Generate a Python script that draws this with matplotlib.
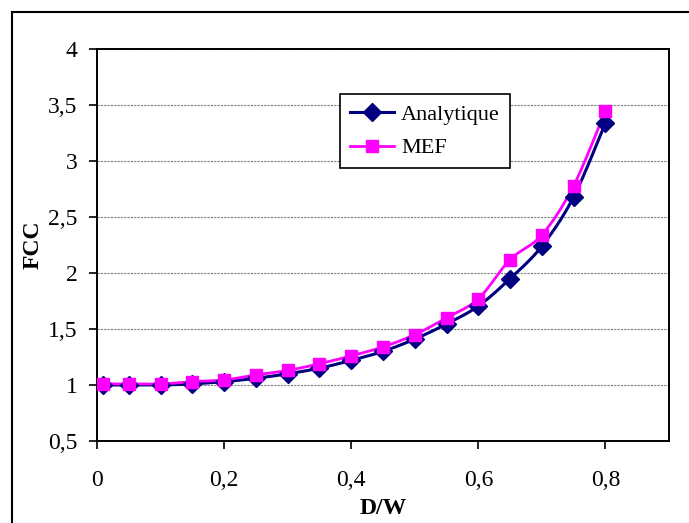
import numpy as np
import matplotlib
matplotlib.use('Agg')
from matplotlib import pyplot as plt
from matplotlib.lines import Line2D
from matplotlib.ticker import FuncFormatter, MultipleLocator

plt.rcParams['font.family'] = ['Liberation Serif', 'DejaVu Serif']

d_w = [0.01, 0.05, 0.1, 0.15, 0.2, 0.25, 0.3, 0.35, 0.4, 0.45,
       0.5, 0.55, 0.6, 0.65, 0.7, 0.75, 0.8]
fcc_analytique = [1.0, 1.0, 1.0, 1.01, 1.03, 1.06, 1.10, 1.15, 1.22, 1.30,
                  1.41, 1.545, 1.705, 1.95, 2.24, 2.68, 3.34]
fcc_mef = [1.01, 1.01, 1.01, 1.03, 1.045, 1.09, 1.13, 1.19, 1.26, 1.34,
           1.45, 1.60, 1.77, 2.12, 2.34, 2.78, 3.45]


def smooth(x, y, n=20):
    # Excel-like smoothed line (Catmull-Rom through the points)
    x = np.asarray(x, float)
    y = np.asarray(y, float)
    px = np.concatenate([[x[0]], x, [x[-1]]])
    py = np.concatenate([[y[0]], y, [y[-1]]])
    xs, ys = [], []
    t = np.linspace(0, 1, n)
    for i in range(1, len(px) - 2):
        p0x, p1x, p2x, p3x = px[i - 1:i + 3]
        p0y, p1y, p2y, p3y = py[i - 1:i + 3]
        c1x, c1y = p1x + (p2x - p0x) / 6, p1y + (p2y - p0y) / 6
        c2x, c2y = p2x - (p3x - p1x) / 6, p2y - (p3y - p1y) / 6
        bx = (1 - t)**3 * p1x + 3 * (1 - t)**2 * t * c1x + 3 * (1 - t) * t**2 * c2x + t**3 * p2x
        by = (1 - t)**3 * p1y + 3 * (1 - t)**2 * t * c1y + 3 * (1 - t) * t**2 * c2y + t**3 * p2y
        xs.extend(bx)
        ys.extend(by)
    return xs, ys


navy = '#000080'
magenta = '#FF00FF'

fig = plt.figure(figsize=(6.89, 5.23), dpi=100)
ax = fig.add_axes([97 / 689, 1 - 441 / 523, 572 / 689, 392 / 523])

sx, sy = smooth(d_w, fcc_analytique)
ax.plot(sx, sy, color=navy, lw=2.2, zorder=3)
sx, sy = smooth(d_w, fcc_mef)
ax.plot(sx, sy, color=magenta, lw=2.0, zorder=4)
ax.plot(d_w, fcc_analytique, ls='none', marker='D', ms=9, color=navy, zorder=5)
ax.plot(d_w, fcc_mef, ls='none', marker='s', ms=8.5, color=magenta, zorder=6)

ax.set_xlim(0, 0.9)
ax.set_ylim(0.5, 4)
ax.xaxis.set_major_locator(MultipleLocator(0.2))
ax.yaxis.set_major_locator(MultipleLocator(0.5))
fmt = FuncFormatter(lambda v, p: ('%g' % round(v, 2)).replace('.', ','))
ax.xaxis.set_major_formatter(fmt)
ax.yaxis.set_major_formatter(fmt)
ax.set_xticks([0, 0.2, 0.4, 0.6, 0.8])
ax.tick_params(direction='out', length=6, width=1.2, labelsize=17, color='black')
ax.tick_params(axis='y', pad=8)
ax.tick_params(axis='x', pad=15)
ax.grid(axis='y', color='#808080', ls=(0, (2, 1)), lw=0.8)
for s in ax.spines.values():
    s.set_linewidth(1.4)
    s.set_color('black')

ax.set_ylabel('FCC', fontsize=17, fontweight='bold', va='center')
ax.yaxis.set_label_coords((33 - 97) / 572, 0.5)
ax.set_xlabel('D/W', fontsize=17, fontweight='bold', va='center')
ax.xaxis.set_label_coords(0.5, -(508 - 441) / 392)

handles = [Line2D([], [], color=navy, lw=2.2, marker='D', ms=9),
           Line2D([], [], color=magenta, lw=2.0, marker='s', ms=8.5)]
leg = ax.legend(handles, ['Analytique', 'MEF'], loc='upper left',
                bbox_to_anchor=((340 - 97) / 572, (441 - 94) / 392),
                fontsize=16, frameon=True, fancybox=False, framealpha=1,
                edgecolor='black', handlelength=2.0, borderpad=0.45,
                labelspacing=0.6, handletextpad=0.3, borderaxespad=0)
leg.get_frame().set_linewidth(1.2)

# outer chart border (only top and left edges are visible in the frame)
fig.add_artist(Line2D([12 / 689, 12 / 689], [0, 1 - 12 / 523], color='black', lw=1.5,
                      transform=fig.transFigure))
fig.add_artist(Line2D([12 / 689, 1], [1 - 12 / 523, 1 - 12 / 523], color='black', lw=1.5,
                      transform=fig.transFigure))

fig.savefig('out.png', dpi=100)
